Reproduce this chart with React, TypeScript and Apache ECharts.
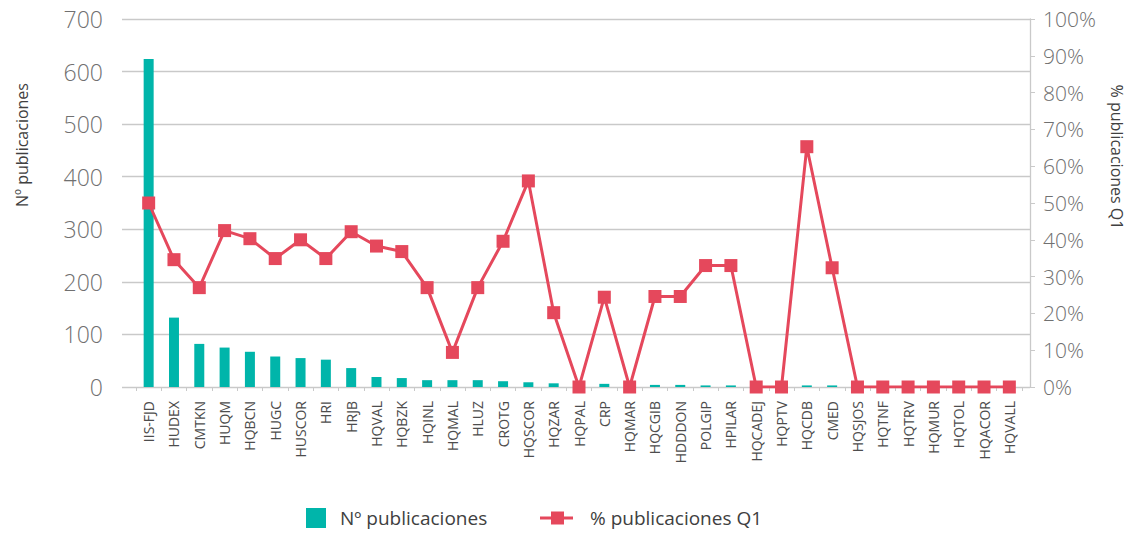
import React, { useEffect, useRef } from "react";
import * as echarts from "echarts";

const categories = [
  "IIS-FJD", "HUDEX", "CMTKN", "HUQM", "HQBCN", "HUGC", "HUSCOR", "HRI", "HRJB", "HQVAL",
  "HQBZK", "HQINL", "HQMAL", "HLUZ", "CROTG", "HQSCOR", "HQZAR", "HQPAL", "CRP", "HQMAR",
  "HQCGIB", "HDDDON", "POLGIP", "HPILAR", "HQCADEJ", "HQPTV", "HQCDB", "CMED", "HQSJOS", "HQTNF",
  "HQTRV", "HQMUR", "HQTOL", "HQACOR", "HQVALL",
];

const publicaciones = [
  624, 132, 82, 75, 67, 58, 55, 52, 36, 19,
  17, 13, 13, 13, 11, 9, 7, 3, 6, 2,
  4, 4, 3, 3, 1, 1, 3, 3, 1, 1,
  1, 1, 1, 1, 1,
];

const pctQ1 = [
  50.0, 34.6, 27.0, 42.5, 40.3, 34.9, 40.0, 34.9, 42.2, 38.3,
  36.8, 27.0, 9.4, 27.0, 39.6, 56.0, 20.2, 0, 24.4, 0,
  24.6, 24.6, 33.0, 33.0, 0, 0, 65.3, 32.4, 0, 0,
  0, 0, 0, 0, 0,
];

const leftTicks = { min: 0, max: 700, interval: 100 };
const rightTicks = { min: 0, max: 100, interval: 10 };

const NAME_BAR = "Nº publicaciones";
const NAME_LINE = "% publicaciones Q1";

const TEAL = "#00b5aa";
const RED = "#e5485c";
const GRID = "#c9c9c9";
const FONT = "'Open Sans', 'Noto Sans', sans-serif";

// legend icons (with invisible move-to points to reserve the gap before the text)
const BAR_ICON = "path://M0,0H20V20H0Z M29,20";
const LINE_ICON = "path://M0,8.5H33V11.5H0Z M11,3.5H24V16.5H11Z M45,0 M0,20";

export default function App() {
  const ref = useRef<HTMLDivElement>(null);

  useEffect(() => {
    if (!ref.current) return;
    const chart = echarts.init(ref.current, null, { renderer: "svg" });
    const top = 19;
    const height = 368;
    chart.setOption({
      animation: false,
      textStyle: { fontFamily: FONT },
      grid: [
        { left: 122, right: 102, top, height },
        { left: 136, right: 110, top, height },
      ],
      xAxis: [
        {
          type: "category",
          gridIndex: 0,
          data: categories,
          show: false,
        },
        {
          type: "category",
          gridIndex: 1,
          data: categories,
          axisLine: { show: false },
          axisTick: { show: true, length: 4, lineStyle: { color: GRID } },
          axisLabel: {
            interval: 0,
            rotate: 90,
            margin: 14,
            fontSize: 14,
            color: "#4d4d4d",
            fontFamily: FONT,
          },
        },
      ],
      yAxis: [
        {
          type: "value",
          gridIndex: 0,
          position: "left",
          ...leftTicks,
          axisLine: { show: false },
          axisTick: { show: false },
          splitLine: { show: true, lineStyle: { color: GRID, width: 1.3 } },
          axisLabel: {
            margin: 19,
            fontSize: 23,
            color: "#707070",
            fontWeight: 300,
            fontFamily: FONT,
          },
        },
        {
          type: "value",
          gridIndex: 0,
          position: "right",
          ...rightTicks,
          axisLine: { show: true, lineStyle: { color: GRID, width: 1.3 } },
          axisTick: { show: true, inside: false, length: 5, lineStyle: { color: GRID } },
          splitLine: { show: false },
          axisLabel: {
            margin: 13,
            fontSize: 21,
            color: "#707070",
            fontWeight: 300,
            fontFamily: FONT,
            formatter: "{value}%",
          },
        },
        {
          type: "value",
          gridIndex: 1,
          ...leftTicks,
          show: false,
        },
        {
          type: "value",
          gridIndex: 1,
          ...rightTicks,
          show: false,
        },
      ],
      legend: [
        {
          data: [NAME_BAR],
          left: 301,
          top: 503,
          itemWidth: 29,
          itemHeight: 20,
          icon: BAR_ICON,
          textStyle: { fontSize: 19, color: "#404040", fontFamily: FONT },
        },
        {
          data: [NAME_LINE],
          left: 535,
          top: 503,
          itemWidth: 45,
          itemHeight: 20,
          icon: LINE_ICON,
          textStyle: { fontSize: 19, color: "#404040", fontFamily: FONT },
        },
      ],
      graphic: [
        {
          type: "text",
          x: 22,
          y: 145,
          rotation: Math.PI / 2,
          style: {
            text: NAME_BAR,
            fontSize: 16,
            fill: "#404040",
            fontFamily: FONT,
            textAlign: "center",
            textVerticalAlign: "middle",
          },
        },
        {
          type: "text",
          x: 1117,
          y: 157,
          rotation: -Math.PI / 2,
          style: {
            text: NAME_LINE,
            fontSize: 16,
            fill: "#404040",
            fontFamily: FONT,
            textAlign: "center",
            textVerticalAlign: "middle",
          },
        },
      ],
      series: [
        {
          name: NAME_BAR,
          type: "bar",
          xAxisIndex: 1,
          yAxisIndex: 2,
          data: publicaciones,
          barWidth: 10,
          itemStyle: { color: TEAL },
          z: 2,
        },
        {
          name: NAME_LINE,
          type: "line",
          xAxisIndex: 1,
          yAxisIndex: 3,
          data: pctQ1,
          showAllSymbol: true,
          symbol: "rect",
          symbolSize: 13,
          lineStyle: { color: RED, width: 3 },
          itemStyle: { color: RED },
          z: 3,
        },
      ],
    });
    return () => chart.dispose();
  }, []);

  return (
    <div
      ref={ref}
      style={{ position: "absolute", left: 0, top: 0, width: 1132, height: 533 }}
    />
  );
}
